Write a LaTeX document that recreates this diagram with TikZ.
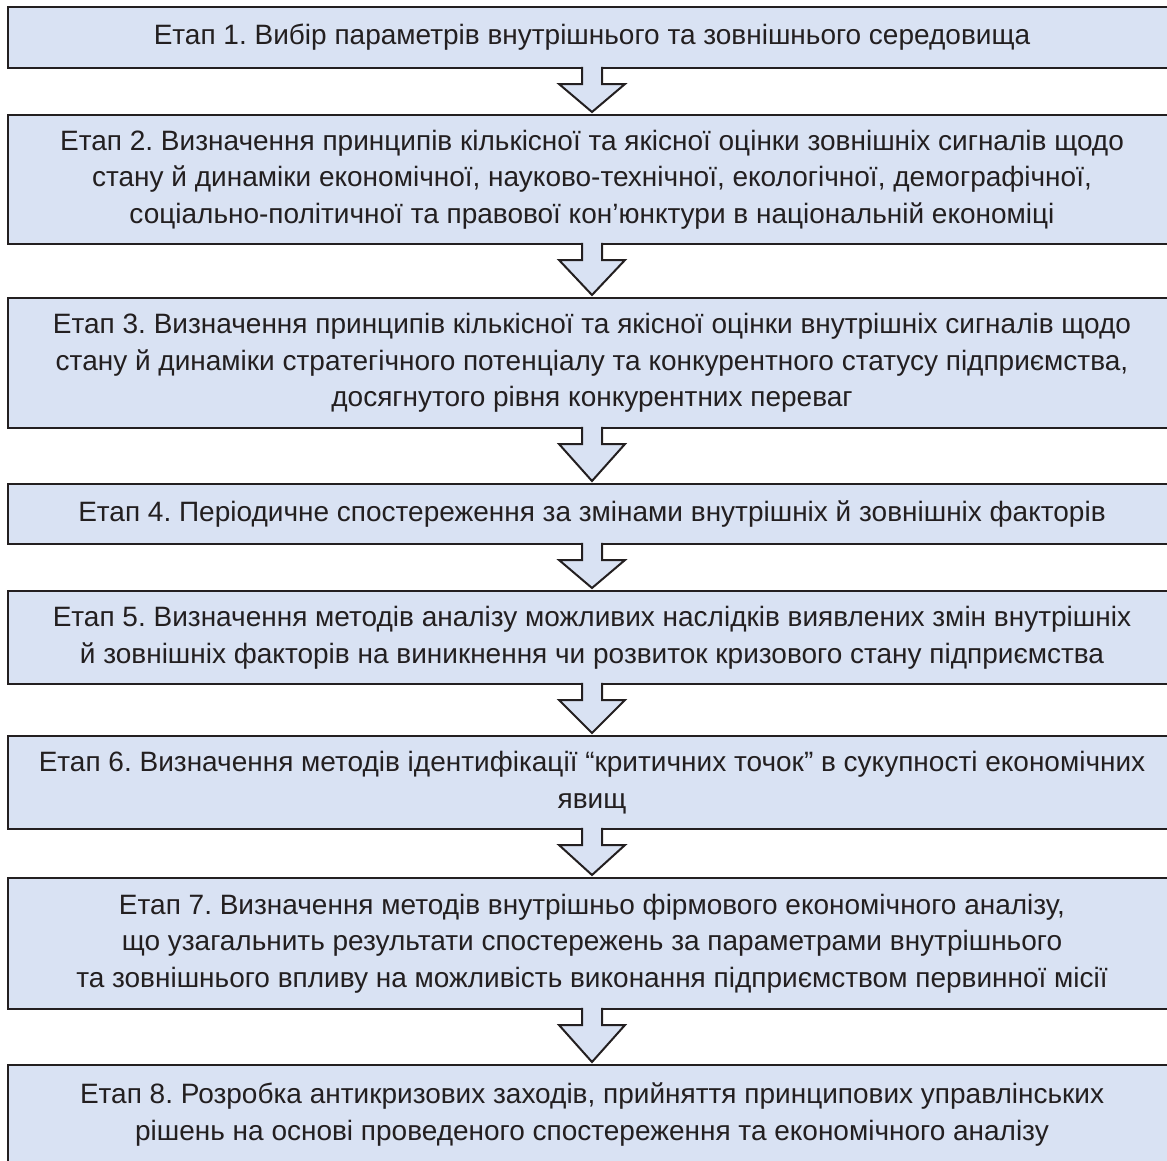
\documentclass[tikz,border=0pt]{standalone}
\usepackage{fontspec}
\setmainfont{Liberation Sans}
\usetikzlibrary{calc}
\frenchspacing
\definecolor{boxfill}{HTML}{D9E2F3}
\definecolor{ink}{HTML}{231F20}
\newcommand\stagearrow[2]{%
  \fill[boxfill] let \p1=(#1.south), \p2=(#2.north) in
    (\x1-10,\y1+1.5) -- (\x1-10,\y1-16) -- (\x1-33,\y1-16) -- (\x1,\y2+3)
    -- (\x1+33,\y1-16) -- (\x1+10,\y1-16) -- (\x1+10,\y1+1.5) -- cycle;
  \draw[ink, line width=2pt] let \p1=(#1.south), \p2=(#2.north) in
    (\x1-10,\y1+1.25) -- (\x1-10,\y1-16) -- (\x1-33,\y1-16) -- (\x1,\y2+3)
    -- (\x1+33,\y1-16) -- (\x1+10,\y1-16) -- (\x1+10,\y1+1.25);
}
\begin{document}
\begin{tikzpicture}[x=1pt,y=1pt,
  stage/.style={draw=ink, line width=2.5pt, fill=boxfill, text=ink,
    font=\fontsize{28}{36.5}\selectfont\frenchspacing, align=center,
    minimum width=1168pt, inner sep=0pt, outer sep=0pt, anchor=north}]
\useasboundingbox (0,0) rectangle (1167,-1160);
\clip (0,0) rectangle (1167,-1160);
\node[stage, minimum height=61pt] (b1) at (592,-7)
  {Етап 1. Вибір параметрів внутрішнього та зовнішнього середовища};
\node[stage, minimum height=129pt] (b2) at (592,-115)
  {Етап 2. Визначення принципів кількісної та якісної оцінки зовнішніх сигналів щодо\\
   стану й динаміки економічної, науково-технічної, екологічної, демографічної,\\
   соціально-політичної та правової кон’юнктури в національній економіці};
\node[stage, minimum height=130pt] (b3) at (592,-298)
  {Етап 3. Визначення принципів кількісної та якісної оцінки внутрішніх сигналів щодо\\
   стану й динаміки стратегічного потенціалу та конкурентного статусу підприємства,\\
   досягнутого рівня конкурентних переваг};
\node[stage, minimum height=60pt] (b4) at (592,-484)
  {Етап 4. Періодичне спостереження за змінами внутрішніх й зовнішніх факторів};
\node[stage, minimum height=93pt] (b5) at (592,-591)
  {Етап 5. Визначення методів аналізу можливих наслідків виявлених змін внутрішніх\\
   й зовнішніх факторів на виникнення чи розвиток кризового стану підприємства};
\node[stage, minimum height=93pt] (b6) at (592,-736)
  {Етап 6. Визначення методів ідентифікації “критичних точок” в сукупності економічних\\
   явищ};
\node[stage, minimum height=131pt] (b7) at (592,-878)
  {Етап 7. Визначення методів внутрішньо фірмового економічного аналізу,\\
   що узагальнить результати спостережень за параметрами внутрішнього\\
   та зовнішнього впливу на можливість виконання підприємством первинної місії};
\node[stage, minimum height=99pt] (b8) at (592,-1065)
  {Етап 8. Розробка антикризових заходів, прийняття принципових управлінських\\
   рішень на основі проведеного спостереження та економічного аналізу};
\stagearrow{b1}{b2}
\stagearrow{b2}{b3}
\stagearrow{b3}{b4}
\stagearrow{b4}{b5}
\stagearrow{b5}{b6}
\stagearrow{b6}{b7}
\stagearrow{b7}{b8}
\end{tikzpicture}
\end{document}
